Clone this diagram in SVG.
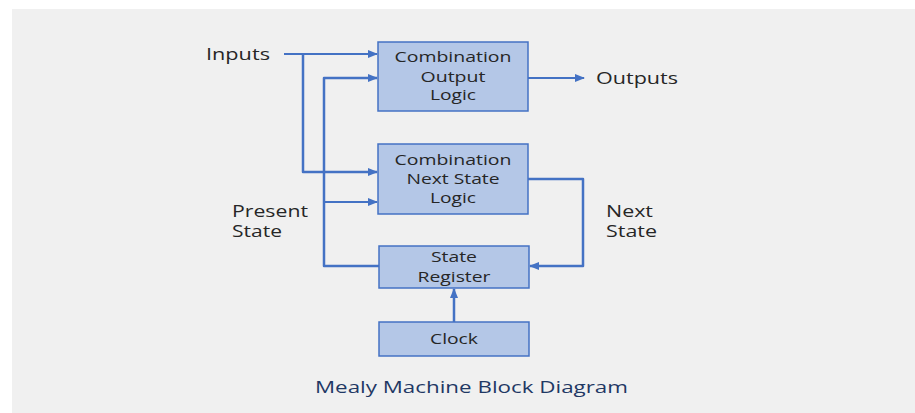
<svg xmlns="http://www.w3.org/2000/svg" width="915" height="413" viewBox="0 0 915 413">
<defs>
<style>
.box{fill:#B4C7E7;stroke:#4472C4;stroke-width:1.5}
.bt{font-family:"Open Sans","Liberation Sans",sans-serif;font-size:14px;fill:#262626;text-anchor:middle}
.lb{font-family:"Open Sans","Liberation Sans",sans-serif;font-size:15.5px;fill:#262626}
.ln{fill:none;stroke:#4472C4;stroke-width:2.5;stroke-linejoin:round}
.la{fill:none;stroke:#4472C4;stroke-width:2}
</style>
<marker id="ah" markerUnits="userSpaceOnUse" markerWidth="10" markerHeight="8" refX="9" refY="4" orient="auto">
<path d="M0,0 L10,4 L0,8 Z" fill="#4472C4"/>
</marker>
</defs>
<rect x="0" y="0" width="915" height="413" fill="#ffffff"/>
<rect x="12" y="9" width="903" height="404" fill="#F0F0F0"/>

<g id="connectors">
<path class="la" d="M284,54 L377,54" marker-end="url(#ah)"/>
<path class="ln" d="M303,54 L303,172 L377,172" marker-end="url(#ah)"/>
<path class="ln" d="M379,266 L324,266 L324,78 L377,78" marker-end="url(#ah)"/>
<path class="la" d="M324,202 L377,202" marker-end="url(#ah)"/>
<path class="la" d="M528,78 L584,78" marker-end="url(#ah)"/>
<path class="ln" d="M528,179 L583,179 L583,266 L530,266" marker-end="url(#ah)"/>
<path class="ln" d="M454,322 L454,289" marker-end="url(#ah)"/>
</g>

<g id="output-logic">
<rect class="box" x="378" y="42" width="150" height="69"/>
<text class="bt" x="453" y="62" textLength="117" lengthAdjust="spacingAndGlyphs">Combination</text>
<text class="bt" x="453" y="82" textLength="65" lengthAdjust="spacingAndGlyphs">Output</text>
<text class="bt" x="453" y="100" textLength="46" lengthAdjust="spacingAndGlyphs">Logic</text>
</g>

<g id="next-state-logic">
<rect class="box" x="378" y="144" width="150" height="70"/>
<text class="bt" x="453" y="165" textLength="117" lengthAdjust="spacingAndGlyphs">Combination</text>
<text class="bt" x="453" y="184" textLength="93" lengthAdjust="spacingAndGlyphs">Next State</text>
<text class="bt" x="453" y="203" textLength="46" lengthAdjust="spacingAndGlyphs">Logic</text>
</g>

<g id="state-register">
<rect class="box" x="379" y="246" width="150" height="42"/>
<text class="bt" x="454" y="262" textLength="46" lengthAdjust="spacingAndGlyphs">State</text>
<text class="bt" x="454" y="282" textLength="73" lengthAdjust="spacingAndGlyphs">Register</text>
</g>

<g id="clock">
<rect class="box" x="379" y="322" width="150" height="34"/>
<text class="bt" x="454" y="344" textLength="48" lengthAdjust="spacingAndGlyphs">Clock</text>
</g>

<g id="labels">
<text class="lb" x="206" y="60" textLength="64" lengthAdjust="spacingAndGlyphs">Inputs</text>
<text class="lb" x="596" y="84" textLength="82" lengthAdjust="spacingAndGlyphs">Outputs</text>
<text class="lb" x="232" y="217" textLength="76" lengthAdjust="spacingAndGlyphs">Present</text>
<text class="lb" x="232" y="237" textLength="50" lengthAdjust="spacingAndGlyphs">State</text>
<text class="lb" x="606" y="217" textLength="47" lengthAdjust="spacingAndGlyphs">Next</text>
<text class="lb" x="606" y="237" textLength="51" lengthAdjust="spacingAndGlyphs">State</text>
</g>

<text x="315" y="393" textLength="313" lengthAdjust="spacingAndGlyphs" style="font-family:'Open Sans','Liberation Sans',sans-serif;font-size:15.5px;fill:#1F3864">Mealy Machine Block Diagram</text>
</svg>
